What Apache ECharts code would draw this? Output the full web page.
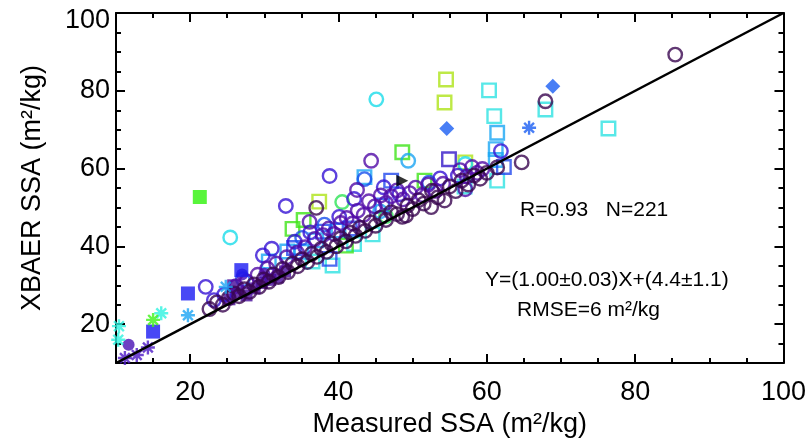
<!DOCTYPE html>
<html>
<head>
<meta charset="utf-8">
<script src="https://cdn.jsdelivr.net/npm/echarts@6/dist/echarts.min.js"></script>
<style>
  html, body { margin: 0; padding: 0; background: #fff; }
  #chart { width: 809px; height: 443px; }
</style>
</head>
<body>
<div id="chart"></div>
<script>
// tick values
var majorTicks = [20, 40, 60, 80, 100];
var minorTicks = [15, 25, 30, 35, 45, 50, 55, 65, 70, 75, 85, 90, 95];

// 1:1 line
var oneToOne = [[10, 10], [100, 100]];

// open circles
var darkCircles = [[22.6,23.9],[23.6,25.6],[24.4,25.0],[25.2,26.7],[25.9,27.9],[26.6,27.2],[27.3,29.0],[28.0,28.3],[28.6,30.2],[29.3,29.6],[29.9,31.5],[30.6,30.9],[31.2,32.8],[31.9,32.1],[32.5,34.2],[33.2,33.4],[33.8,35.6],[34.5,34.9],[35.1,36.7],[35.8,36.0],[36.4,38.1],[37.1,37.3],[37.0,49.9],[37.7,39.4],[38.4,38.6],[39.0,40.8],[39.7,40.0],[40.3,42.1],[41.0,41.3],[41.6,43.5],[42.3,42.7],[42.9,44.8],[43.6,44.0],[44.3,46.2],[45.0,45.3],[45.7,47.4],[46.4,46.8],[47.1,48.8],[47.9,48.3],[48.6,47.6],[49.1,47.9],[49.3,50.5],[50.0,49.6],[50.8,51.9],[51.5,51.0],[52.5,50.1],[52.6,54.3],[53.4,52.6],[54.3,51.8],[55.0,55.4],[55.8,54.2],[56.6,56.9],[57.5,55.9],[58.3,58.2],[59.1,57.4],[60.0,58.9],[61.4,60.3],[64.7,61.6],[67.9,77.3],[85.4,89.3]];
var purpleCircles = [[26.2,29.8],[27.6,31.0],[29.1,32.7],[30.4,34.3],[31.6,35.6],[33.0,37.2],[34.4,38.4],[35.5,39.8],[36.1,46.3],[36.8,41.9],[37.9,42.9],[38.7,44.6],[39.4,43.2],[40.3,46.0],[41.1,47.3],[41.9,45.9],[42.6,49.2],[43.4,48.1],[44.1,51.6],[44.9,50.3],[45.7,53.1],[46.4,51.2],[47.1,52.9],[47.9,54.4],[48.7,52.1],[49.6,53.7],[50.4,55.1],[51.3,53.2],[52.1,55.9],[53.1,54.3],[54.1,56.1],[56.4,59.6],[57.1,54.7],[57.3,58.0],[58.0,60.4],[58.7,58.9],[59.4,59.9],[44.4,62.0],[42.5,54.5]];
var violetCircles = [[38.8,58.1],[32.9,50.4],[31.0,39.4],[29.8,37.7],[22.1,29.6],[23.2,26.2],[24.6,27.6],[34.1,41.2],[36.2,43.6],[40.1,47.6],[42.1,52.2],[46.1,55.2],[61.9,64.5],[56.1,58.2],[48.2,53.4],[53.7,57.5]];
var blueCircles = [[43.5,57.3],[52.2,56.4],[38.1,45.6],[35.1,42.2],[27.1,31.6]];
var skyCircles = [[49.4,62.0],[45.6,49.0]];
var cyanCircles = [[25.4,42.3],[45.1,77.8],[57.1,61.2]];
var greenCircles = [[40.5,51.4],[46.4,47.8]];

// open squares
var cyanSquares = [[60.3,80.1],[61.0,73.5],[61.4,56.9],[67.9,75.2],[76.4,70.3],[36.5,36.1],[39.2,35.1],[42.1,40.6],[44.6,43.1],[57.0,55.4]];
var skySquares = [[61.4,69.2],[61.2,65.0],[43.5,57.8],[35.0,38.6],[37.0,41.6],[40.0,44.1],[30.6,36.1],[33.1,38.7],[61.2,62.2]];
var blueSquares = [[47.1,56.9],[62.3,60.4],[37.9,43.8],[38.8,36.8],[45.9,50.5],[41.5,44.6],[34.0,39.6]];
var violetSquares = [[54.9,62.4]];
var greenSquares = [[48.6,64.2],[33.8,44.5],[35.3,46.8],[41.0,40.2],[51.6,56.9]];
var limeSquares = [[54.5,82.9],[54.3,77.0],[37.4,51.5],[57.1,61.6]];

// filled markers
var greenFilledSquares = [[21.3,52.7]];
var blueFilledSquares = [[19.7,27.9],[15.0,18.1],[26.9,33.9]];
var purpleFilledSquares = [[25.3,26.4],[26.4,28.1],[27.6,27.4],[28.7,29.2],[29.7,30.6],[30.8,31.4],[31.8,32.0],[32.8,33.6],[25.8,30.0]];
var purpleFilledCircles = [[11.7,14.7],[27.0,32.8],[30.0,33.0]];
var blueDiamonds = [[54.6,70.3],[68.9,81.2]];
var blackTriangles = [[48.6,56.9]];

// asterisks
var blueStars = [[65.7,70.5]];
var skyStars = [[19.7,22.3],[24.8,29.6]];
var cyanStars = [[16.1,22.8],[10.4,19.5],[10.3,16.0]];
var greenStars = [[15.0,21.1]];
var purpleStars = [[12.8,12.1],[14.3,14.0],[11.2,11.3]];

var FONT = 'Liberation Sans, Arial, Helvetica, sans-serif';
var STAR = 'path://M0,-10L0,10M-10,0L10,0M-7,-7L7,7M-7,7L7,-7';

function openSeries(data, symbol, color, size) {
  return {
    type: 'scatter', data: data, symbol: symbol, symbolSize: size || 13.5,
    itemStyle: { color: 'rgba(0,0,0,0)', borderColor: color, borderWidth: 2.4 },
    xAxisIndex: 0, yAxisIndex: 0
  };
}
function filledSeries(data, symbol, color, size, rotate) {
  return {
    type: 'scatter', data: data, symbol: symbol, symbolSize: size || 13,
    symbolRotate: rotate || 0,
    itemStyle: { color: color },
    xAxisIndex: 0, yAxisIndex: 0
  };
}

function xAx(pos, ticks, len, withLabel) {
  var a = {
    type: 'value', position: pos, min: 10, max: 100,
    axisLine: { show: len > 6, onZero: false, lineStyle: { color: '#000', width: 2 } },
    axisTick: { inside: true, length: len, customValues: ticks, lineStyle: { color: '#000', width: 2 } },
    axisLabel: { show: false },
    splitLine: { show: false }
  };
  if (withLabel) {
    a.axisLabel = { show: true, customValues: majorTicks, fontSize: 27, color: '#000', fontFamily: FONT, margin: 16 };
    a.name = 'Measured SSA (m²/kg)';
    a.nameLocation = 'middle';
    a.nameGap = 41;
    a.nameTextStyle = { fontSize: 27, color: '#000', fontFamily: FONT };
  }
  return a;
}
function yAx(pos, ticks, len, withLabel) {
  var a = {
    type: 'value', position: pos, min: 10, max: 100,
    axisLine: { show: len > 6, onZero: false, lineStyle: { color: '#000', width: 2 } },
    axisTick: { inside: true, length: len, customValues: ticks, lineStyle: { color: '#000', width: 2 } },
    axisLabel: { show: false },
    splitLine: { show: false }
  };
  if (withLabel) {
    a.axisLabel = {
      show: true, customValues: majorTicks, fontSize: 27, color: '#000', fontFamily: FONT, margin: 6,
      formatter: function (v) { return v === 100 ? '{top|100}' : String(v); },
      rich: { top: { fontSize: 27, color: '#000', fontFamily: FONT, padding: [15, 0, 0, 0] } }
    };
    a.name = 'XBAER SSA (m²/kg)';
    a.nameLocation = 'middle';
    a.nameGap = 70;
    a.nameTextStyle = { fontSize: 27, color: '#000', fontFamily: FONT };
  }
  return a;
}

var chart = echarts.init(document.getElementById('chart'));
var option = {
  animation: false,
  backgroundColor: '#fff',
  grid: { left: 116, right: 24, top: 13, bottom: 78, containLabel: false },
  xAxis: [
    xAx('bottom', majorTicks, 9, true),
    xAx('bottom', minorTicks, 5, false),
    xAx('top', majorTicks, 9, false),
    xAx('top', minorTicks, 5, false)
  ],
  yAxis: [
    yAx('left', majorTicks, 9, true),
    yAx('left', minorTicks, 5, false),
    yAx('right', majorTicks, 9, false),
    yAx('right', minorTicks, 5, false)
  ],
  series: [
    openSeries(cyanSquares, 'rect', '#2ee2e2'),
    openSeries(skySquares, 'rect', '#1aa6f4'),
    openSeries(blueSquares, 'rect', '#2248ee'),
    openSeries(violetSquares, 'rect', '#3418c8'),
    openSeries(greenSquares, 'rect', '#3ee418'),
    openSeries(limeSquares, 'rect', '#aee418'),
    openSeries(cyanCircles, 'circle', '#1adcea'),
    openSeries(greenCircles, 'circle', '#2ee456'),
    openSeries(skyCircles, 'circle', '#1aa4f2'),
    openSeries(blueCircles, 'circle', '#1850ec'),
    filledSeries(purpleFilledSquares, 'rect', '#460a9a', 12),
    filledSeries(purpleFilledCircles, 'circle', '#4810b4', 12),
    openSeries(violetCircles, 'circle', '#3412d4'),
    openSeries(purpleCircles, 'circle', '#500aa6'),
    openSeries(darkCircles, 'circle', '#3a0650'),
    filledSeries(greenFilledSquares, 'rect', '#2ef20a', 14),
    filledSeries(blueFilledSquares, 'rect', '#1a1af2', 14),
    filledSeries(blueDiamonds, 'diamond', '#1a5ef2', 15),
    filledSeries(blackTriangles, 'triangle', '#000', 12, -90),
    openSeries(blueStars, STAR, '#1a5ef2', 14),
    openSeries(skyStars, STAR, '#1aa4f4', 14),
    openSeries(cyanStars, STAR, '#2ef2e0', 14),
    openSeries(greenStars, STAR, '#3ef218', 14),
    openSeries(purpleStars, STAR, '#4c18c6', 14),
    {
      type: 'line', data: oneToOne, symbol: 'none',
      lineStyle: { color: '#000', width: 2.5 },
      xAxisIndex: 0, yAxisIndex: 0, z: 5
    }
  ],
  graphic: [
    { type: 'text', x: 520, y: 210, style: { text: 'R=0.93   N=221', fill: '#000', font: '21px ' + FONT, verticalAlign: 'middle' } },
    { type: 'text', x: 485, y: 280, style: { text: 'Y=(1.00±0.03)X+(4.4±1.1)', fill: '#000', font: '21px ' + FONT, verticalAlign: 'middle' } },
    { type: 'text', x: 517, y: 310, style: { text: 'RMSE=6 m²/kg', fill: '#000', font: '21px ' + FONT, verticalAlign: 'middle' } }
  ]
};
chart.setOption(option);
</script>
</body>
</html>
